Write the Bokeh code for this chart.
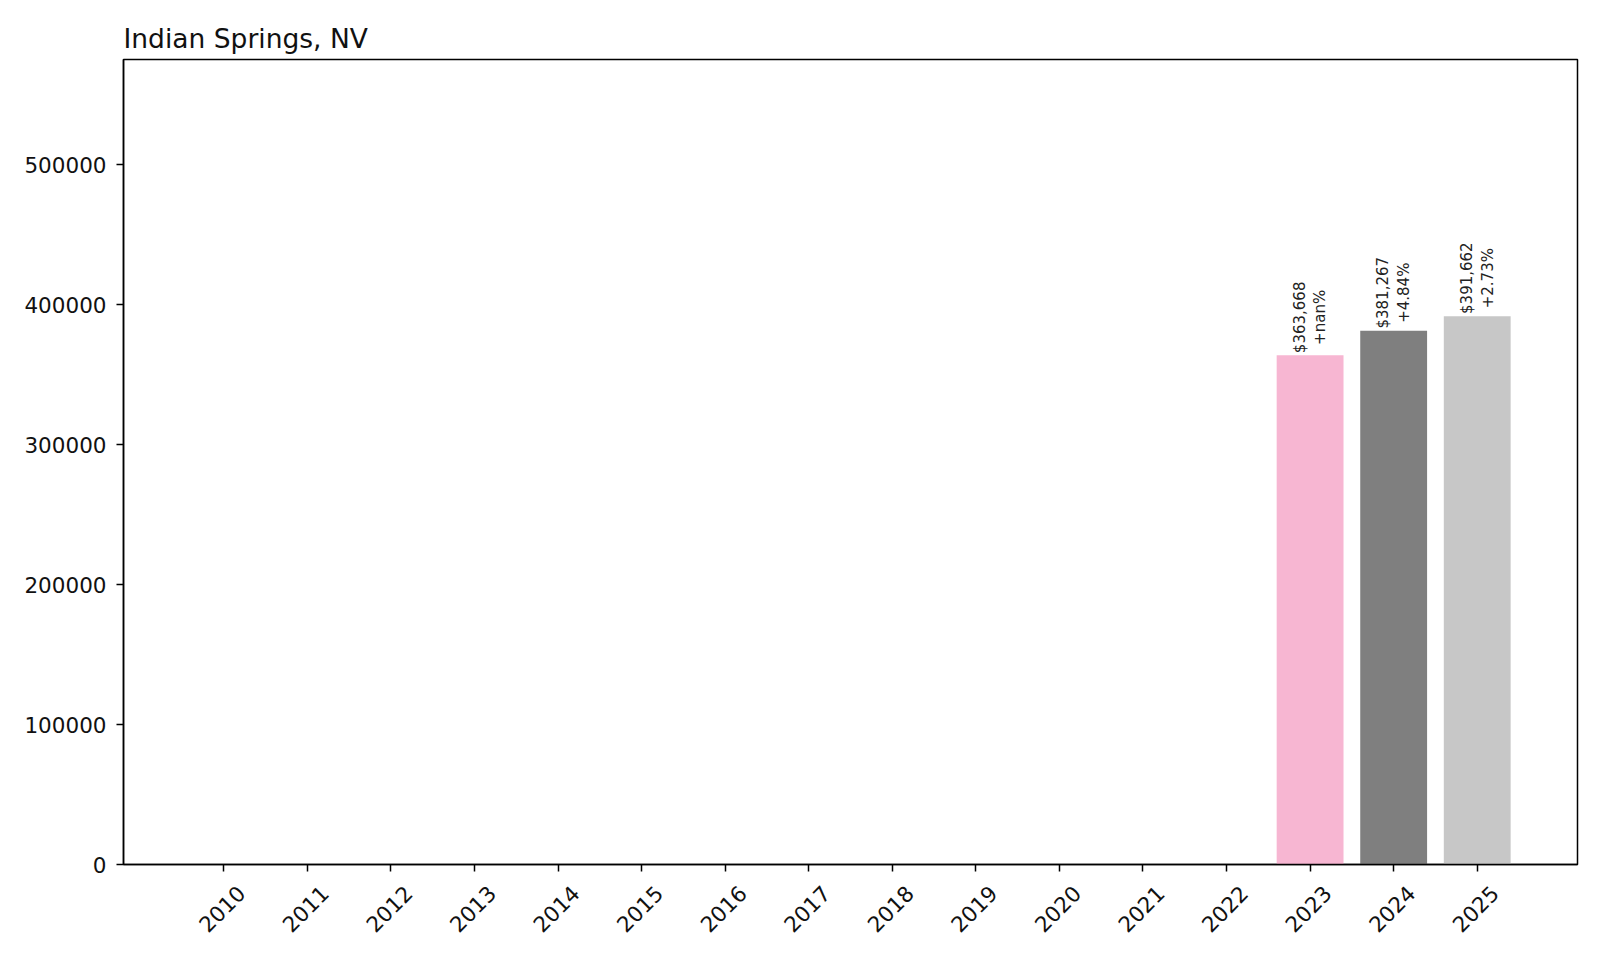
import math
from bokeh.plotting import figure
from bokeh.models import (ColumnDataSource, Range1d, FixedTicker, BasicTickFormatter,
                          LinearAxis, Title)
from bokeh.core.properties import value
from bokeh.palettes import Category20
from bokeh.embed import file_html
from bokeh.resources import INLINE

# ---- data ----
title_text = "Indian Springs, NV"
years = list(range(2010, 2026))
prices = [None] * 13 + [363668, 381267, 391662]
y_ticks = [0, 100000, 200000, 300000, 400000, 500000]
y_max = 575000

# ---- derived ----
palette = Category20[20]
colors = [palette[i % 20] for i in range(len(years))]
nan = float("nan")
vals = [nan if v is None else float(v) for v in prices]

lab_x, lab_y, lab_t = [], [], []
prev = nan
for yr, v in zip(years, vals):
    if not math.isnan(v):
        pct = (v - prev) / prev * 100 if not math.isnan(prev) else nan
        lab_x.append(yr)
        lab_y.append(v)
        lab_t.append(f"${v:,.0f}\n+{pct:.2f}%")
    prev = v

bar_src = ColumnDataSource(dict(x=years, top=vals, color=colors, base=[0] * len(years)))
lab_src = ColumnDataSource(dict(x=lab_x, y=lab_y, t=lab_t))

FONT = "DejaVu Sans"
PAD = 1.2           # x padding (in bar units) on each side
LABEL_SHIFT = 0.21  # shift so rotated tick labels sit centred under their ticks

x0, x1 = years[0] - PAD, years[-1] + PAD
p = figure(frame_width=1454, frame_height=805, width=1597, height=954,
           output_backend="svg", toolbar_location=None,
           x_range=Range1d(x0, x1), y_range=Range1d(0, y_max),
           min_border_left=123, min_border_right=20, min_border_top=59, min_border_bottom=90)
p.extra_x_ranges = {"lab": Range1d(x0 - LABEL_SHIFT, x1 - LABEL_SHIFT)}
p.background_fill_color = "white"
p.border_fill_color = "white"
p.grid.visible = False
p.outline_line_color = "black"
p.outline_line_width = 1.5

p.title = Title(text=title_text, align="left", text_font=FONT, text_font_size="26.5px",
                text_font_style="normal", text_color="#111111", standoff=11, offset=0)

p.vbar(x="x", top="top", bottom="base", width=0.8, color="color", line_color=None, source=bar_src)

p.text(x="x", y="y", text="t", source=lab_src, angle=math.pi / 2,
       text_align="center", text_baseline="middle", y_offset=-38,
       text_font=value(FONT), text_font_size="15px", text_color="#222222",
       text_line_height=1.15)

# y axis
ya = p.yaxis[0]
ya.ticker = FixedTicker(ticks=y_ticks)
ya.formatter = BasicTickFormatter(use_scientific=False)
ya.major_label_text_font = FONT
ya.major_label_text_font_size = "21.5px"
ya.major_label_text_color = "#111111"
ya.major_tick_out = 7
ya.major_tick_in = 0
ya.minor_tick_out = 0
ya.minor_tick_in = 0
ya.major_label_standoff = 10
ya.axis_line_width = 1.5
ya.major_tick_line_width = 1.5

# x axis: tick marks only (its own labels are not drawn)
xa = p.xaxis[0]
xa.ticker = FixedTicker(ticks=years)
xa.major_label_text_font_size = "1px"
xa.major_label_text_color = None
xa.major_label_standoff = 0
xa.major_tick_out = 7
xa.major_tick_in = 0
xa.minor_tick_out = 0
xa.minor_tick_in = 0
xa.axis_line_width = 1.5
xa.major_tick_line_width = 1.5

# x tick labels (rotated), on a slightly shifted range so they are centred on ticks
lab_axis = LinearAxis(x_range_name="lab", ticker=FixedTicker(ticks=years),
                      axis_line_color=None, major_tick_line_color=None,
                      major_tick_out=0, major_tick_in=0, minor_tick_out=0, minor_tick_in=0,
                      major_label_orientation=math.pi / 4, major_label_standoff=18,
                      major_label_text_font=FONT, major_label_text_font_size="21.5px",
                      major_label_text_color="#111111")
p.add_layout(lab_axis, "below")

open("out.html", "w").write(file_html(p, INLINE))
